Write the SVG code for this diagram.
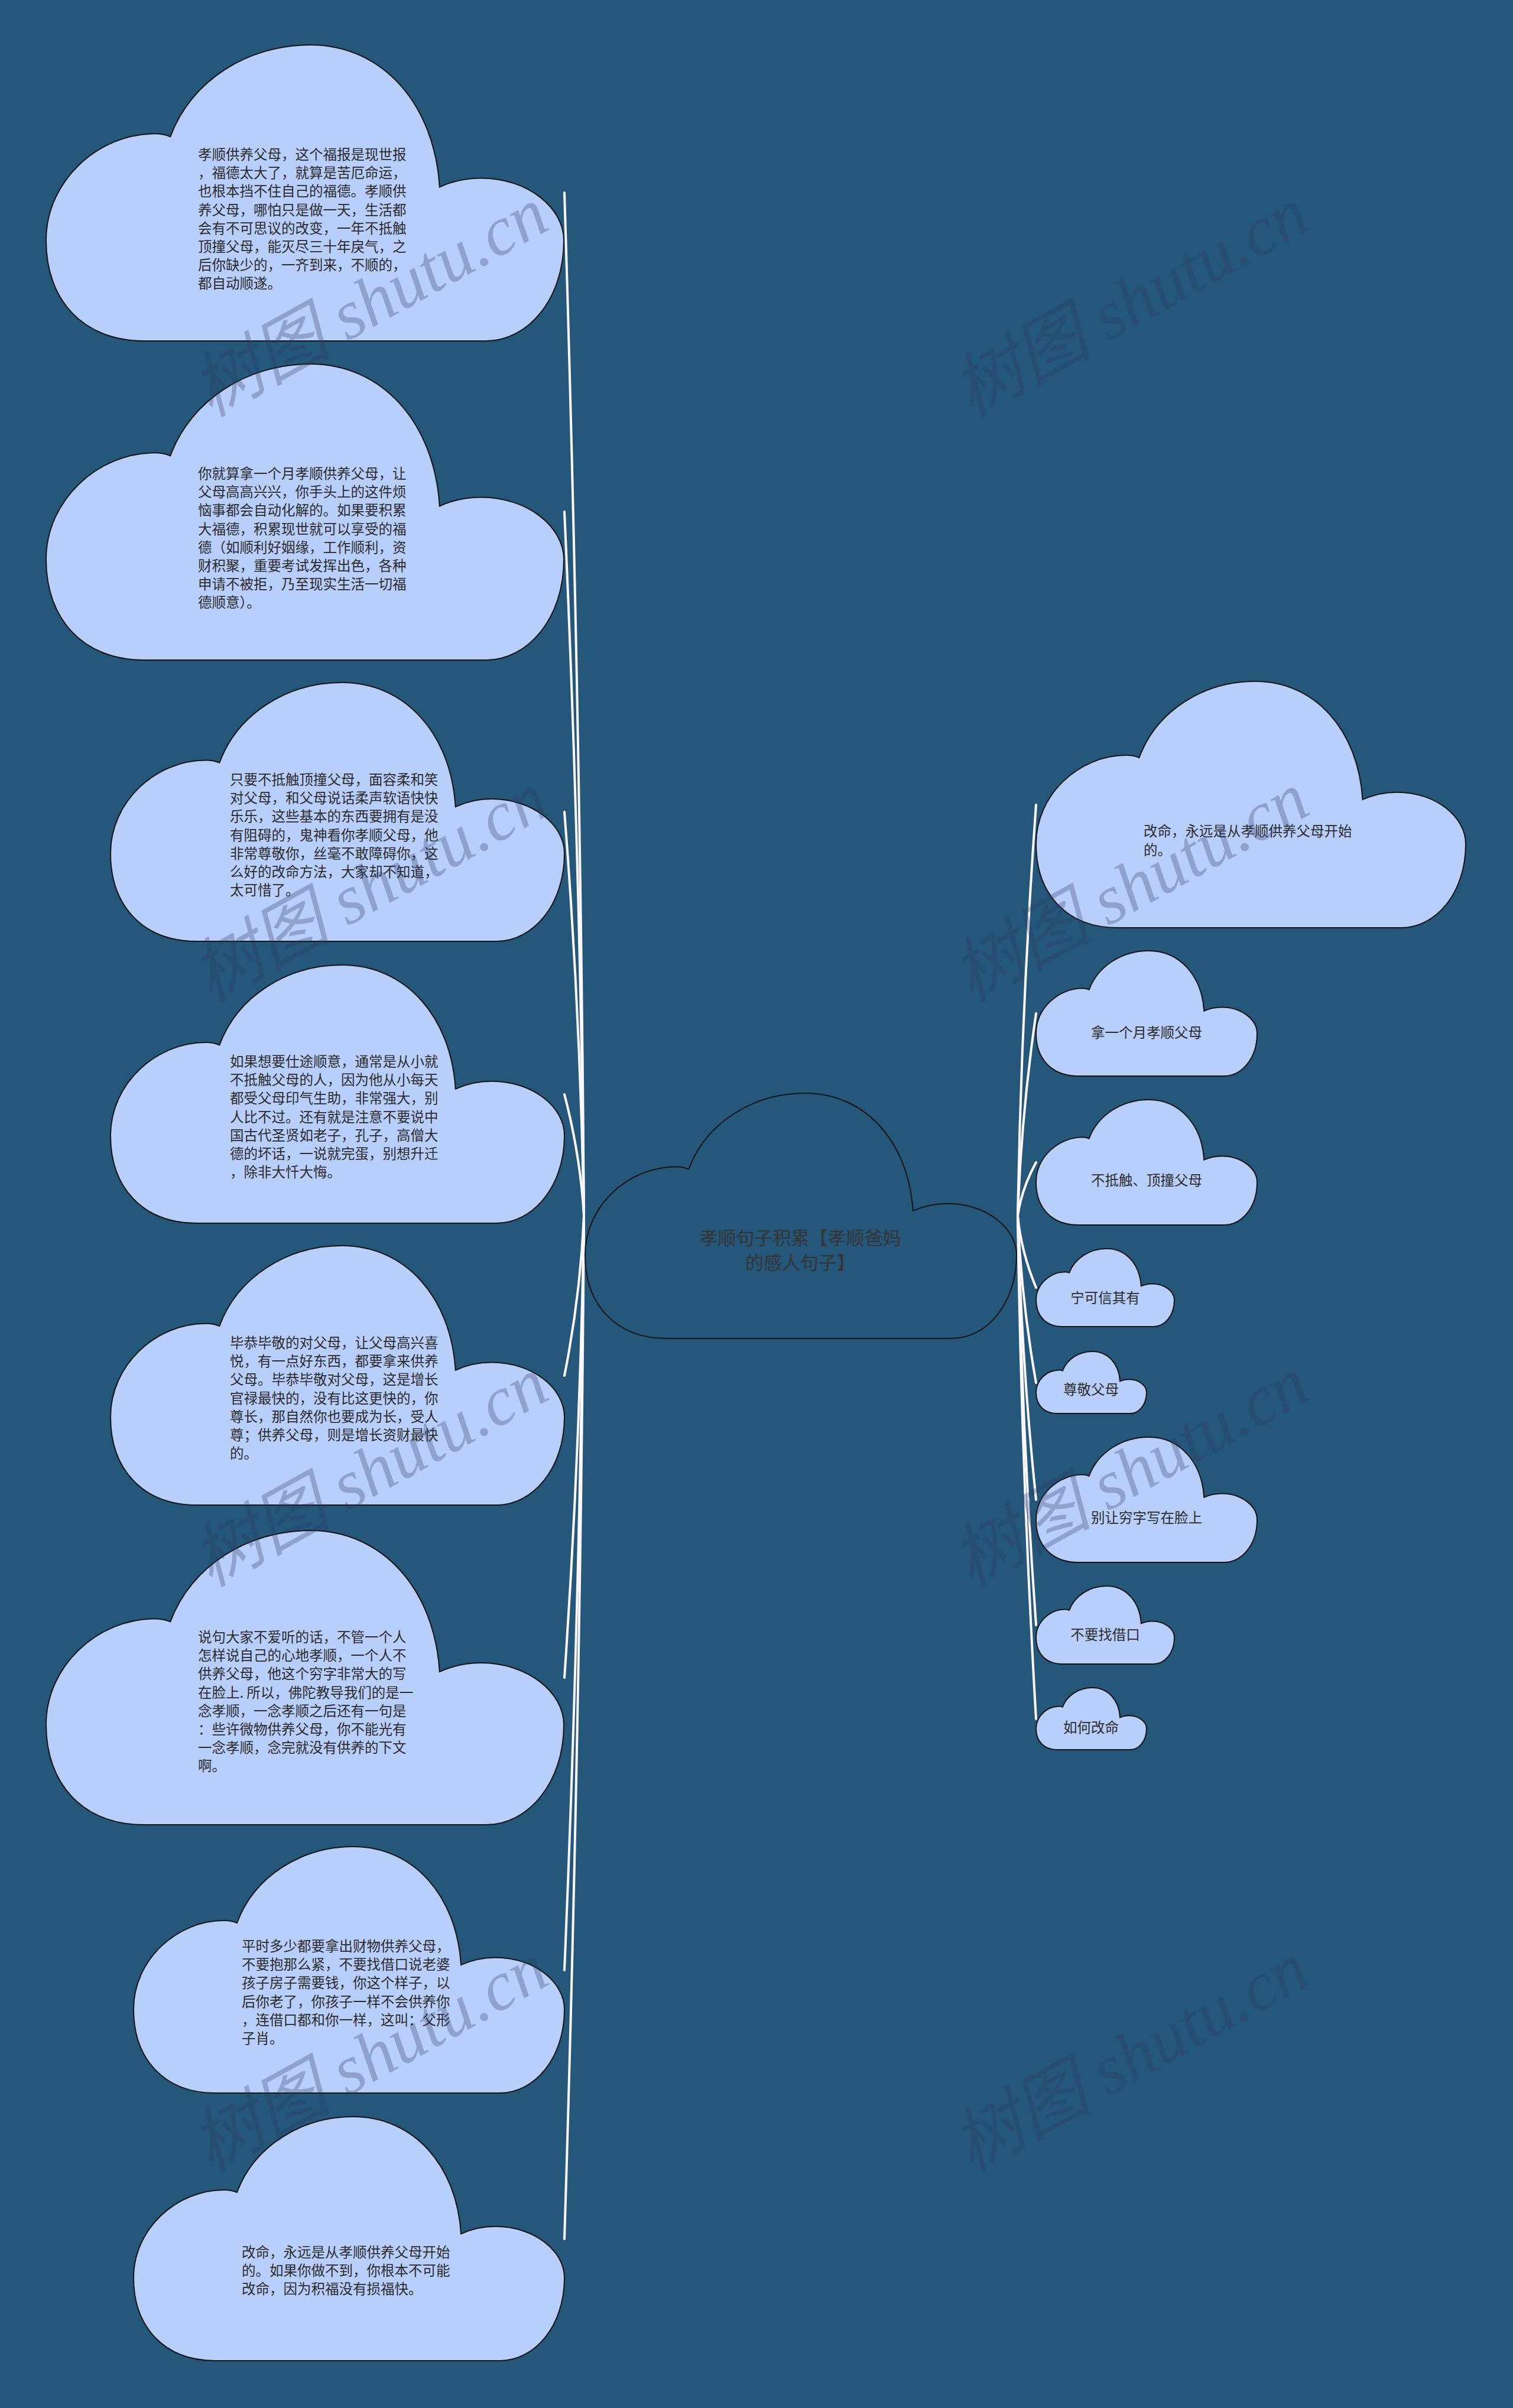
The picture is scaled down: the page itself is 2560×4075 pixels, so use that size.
<svg xmlns="http://www.w3.org/2000/svg" xmlns:xlink="http://www.w3.org/1999/xlink" width="2560" height="4075" viewBox="0 0 2560 4075">
<style>
.bg{fill:#245779}
.cl{fill:#b9cffb;stroke:#151515;stroke-width:2}
.root{fill:#245779;stroke:#151515;stroke-width:2}
.t{font-family:"Noto Sans CJK SC","Noto Sans",sans-serif;font-size:23.5px;fill:#2b2b2b}
.tc{text-anchor:middle}
.rt{font-family:"Noto Sans CJK SC","Noto Sans",sans-serif;font-size:31px;fill:#353535;text-anchor:middle}
.ln{fill:none;stroke:#fbf7ff;stroke-width:4;stroke-linecap:round}
.wm{font-family:"Liberation Serif","Noto Sans CJK SC",serif;font-style:italic;font-size:118px;fill:#2a3c62;fill-opacity:0.3;text-anchor:middle}
</style>
<defs>
<path id="cloud" vector-effect="non-scaling-stroke" d="M19,100 C7,100 0,86 0,66 C0,46 10,30 21,30 C22.3,30 23.2,30.4 24,31 C28,12 39,0 51,0 C65,0 75,20 76,48 C78.5,46 81,45 84,45 C93,45 100,55 100,66 C100,86 93,100 85,100 Z"/>
</defs>
<rect class="bg" x="0" y="0" width="2560" height="4075"/>
<g id="connectors">
<path class="ln" d="M988,2058 Q982,1192 955,326"/>
<path class="ln" d="M988,2058 Q982,1462 955,866"/>
<path class="ln" d="M988,2058 Q982,1716 955,1374"/>
<path class="ln" d="M988,2058 Q982,1955 955,1852"/>
<path class="ln" d="M988,2058 Q982,2193 955,2328"/>
<path class="ln" d="M988,2058 Q982,2449 955,2839"/>
<path class="ln" d="M988,2058 Q982,2696 955,3334"/>
<path class="ln" d="M988,2058 Q982,2923 955,3789"/>
<path class="ln" d="M1722,2058 Q1728,1710 1753,1362"/>
<path class="ln" d="M1722,2058 Q1728,1887 1753,1715"/>
<path class="ln" d="M1722,2058 Q1728,2013 1753,1967"/>
<path class="ln" d="M1722,2058 Q1728,2119 1753,2179"/>
<path class="ln" d="M1722,2058 Q1728,2199 1753,2340"/>
<path class="ln" d="M1722,2058 Q1728,2298 1753,2538"/>
<path class="ln" d="M1722,2058 Q1728,2404 1753,2750"/>
<path class="ln" d="M1722,2058 Q1728,2483 1753,2909"/>
</g>
<g id="root">
<use xlink:href="#cloud" href="#cloud" class="root" transform="translate(990,1850) scale(7.30,4.15)"/>
<text class="rt"><tspan x="1354" y="2106">孝顺句子积累【孝顺爸妈</tspan><tspan x="1354" y="2148">的感人句子】</tspan></text>
</g>
<g id="left-1">
<use xlink:href="#cloud" href="#cloud" class="cl" transform="translate(78,76) scale(8.76,5.01)"/>
<text class="t"><tspan x="335" y="270">孝顺供养父母，这个福报是现世报</tspan><tspan x="335" y="301.2">，福德太大了，就算是苦厄命运，</tspan><tspan x="335" y="332.4">也根本挡不住自己的福德。孝顺供</tspan><tspan x="335" y="363.6">养父母，哪怕只是做一天，生活都</tspan><tspan x="335" y="394.8">会有不可思议的改变，一年不抵触</tspan><tspan x="335" y="426">顶撞父母，能灭尽三十年戾气，之</tspan><tspan x="335" y="457.2">后你缺少的，一齐到来，不顺的，</tspan><tspan x="335" y="488.4">都自动顺遂。</tspan></text>
</g>
<g id="left-2">
<use xlink:href="#cloud" href="#cloud" class="cl" transform="translate(78,616) scale(8.76,5.01)"/>
<text class="t"><tspan x="335" y="810">你就算拿一个月孝顺供养父母，让</tspan><tspan x="335" y="841.2">父母高高兴兴，你手头上的这件烦</tspan><tspan x="335" y="872.4">恼事都会自动化解的。如果要积累</tspan><tspan x="335" y="903.6">大福德，积累现世就可以享受的福</tspan><tspan x="335" y="934.8">德（如顺利好姻缘，工作顺利，资</tspan><tspan x="335" y="966">财积聚，重要考试发挥出色，各种</tspan><tspan x="335" y="997.2">申请不被拒，乃至现实生活一切福</tspan><tspan x="335" y="1028.4">德顺意）。</tspan></text>
</g>
<g id="left-3">
<use xlink:href="#cloud" href="#cloud" class="cl" transform="translate(187,1155) scale(7.68,4.38)"/>
<text class="t"><tspan x="389" y="1328">只要不抵触顶撞父母，面容柔和笑</tspan><tspan x="389" y="1359.2">对父母，和父母说话柔声软语快快</tspan><tspan x="389" y="1390.4">乐乐，这些基本的东西要拥有是没</tspan><tspan x="389" y="1421.6">有阻碍的，鬼神看你孝顺父母，他</tspan><tspan x="389" y="1452.8">非常尊敬你，丝毫不敢障碍你，这</tspan><tspan x="389" y="1484">么好的改命方法，大家却不知道，</tspan><tspan x="389" y="1515.2">太可惜了。</tspan></text>
</g>
<g id="left-4">
<use xlink:href="#cloud" href="#cloud" class="cl" transform="translate(187,1633) scale(7.68,4.37)"/>
<text class="t"><tspan x="389" y="1805">如果想要仕途顺意，通常是从小就</tspan><tspan x="389" y="1836.2">不抵触父母的人，因为他从小每天</tspan><tspan x="389" y="1867.4">都受父母印气生助，非常强大，别</tspan><tspan x="389" y="1898.6">人比不过。还有就是注意不要说中</tspan><tspan x="389" y="1929.8">国古代圣贤如老子，孔子，高僧大</tspan><tspan x="389" y="1961">德的坏话，一说就完蛋，别想升迁</tspan><tspan x="389" y="1992.2">，除非大忏大悔。</tspan></text>
</g>
<g id="left-5">
<use xlink:href="#cloud" href="#cloud" class="cl" transform="translate(187,2108) scale(7.68,4.39)"/>
<text class="t"><tspan x="389" y="2281">毕恭毕敬的对父母，让父母高兴喜</tspan><tspan x="389" y="2312.2">悦，有一点好东西，都要拿来供养</tspan><tspan x="389" y="2343.4">父母。毕恭毕敬对父母，这是增长</tspan><tspan x="389" y="2374.6">官禄最快的，没有比这更快的，你</tspan><tspan x="389" y="2405.8">尊长，那自然你也要成为长，受人</tspan><tspan x="389" y="2437">尊；供养父母，则是增长资财最快</tspan><tspan x="389" y="2468.2">的。</tspan></text>
</g>
<g id="left-6">
<use xlink:href="#cloud" href="#cloud" class="cl" transform="translate(78,2590) scale(8.76,4.98)"/>
<text class="t"><tspan x="335" y="2779">说句大家不爱听的话，不管一个人</tspan><tspan x="335" y="2810.2">怎样说自己的心地孝顺，一个人不</tspan><tspan x="335" y="2841.4">供养父母，他这个穷字非常大的写</tspan><tspan x="335" y="2872.6">在脸上. 所以，佛陀教导我们的是一</tspan><tspan x="335" y="2903.8">念孝顺，一念孝顺之后还有一句是</tspan><tspan x="335" y="2935">：些许微物供养父母，你不能光有</tspan><tspan x="335" y="2966.2">一念孝顺，念完就没有供养的下文</tspan><tspan x="335" y="2997.4">啊。</tspan></text>
</g>
<g id="left-7">
<use xlink:href="#cloud" href="#cloud" class="cl" transform="translate(226,3125) scale(7.29,4.17)"/>
<text class="t"><tspan x="409" y="3302">平时多少都要拿出财物供养父母，</tspan><tspan x="409" y="3333.2">不要抱那么紧，不要找借口说老婆</tspan><tspan x="409" y="3364.4">孩子房子需要钱，你这个样子，以</tspan><tspan x="409" y="3395.6">后你老了，你孩子一样不会供养你</tspan><tspan x="409" y="3426.8">，连借口都和你一样，这叫：父形</tspan><tspan x="409" y="3458">子肖。</tspan></text>
</g>
<g id="left-8">
<use xlink:href="#cloud" href="#cloud" class="cl" transform="translate(226,3582) scale(7.29,4.13)"/>
<text class="t"><tspan x="409" y="3820">改命，永远是从孝顺供养父母开始</tspan><tspan x="409" y="3851.2">的。如果你做不到，你根本不可能</tspan><tspan x="409" y="3882.4">改命，因为积福没有损福快。</tspan></text>
</g>
<g id="right-1">
<use xlink:href="#cloud" href="#cloud" class="cl" transform="translate(1753,1153) scale(7.27,4.17)"/>
<text class="t"><tspan x="1935" y="1415">改命，永远是从孝顺供养父母开始</tspan><tspan x="1935" y="1446.5">的。</tspan></text>
</g>
<g id="right-2">
<use xlink:href="#cloud" href="#cloud" class="cl" transform="translate(1753,1609) scale(3.74,2.12)"/>
<text class="t tc" x="1940" y="1756">拿一个月孝顺父母</text>
</g>
<g id="right-3">
<use xlink:href="#cloud" href="#cloud" class="cl" transform="translate(1753,1861) scale(3.74,2.12)"/>
<text class="t tc" x="1940" y="2006">不抵触、顶撞父母</text>
</g>
<g id="right-4">
<use xlink:href="#cloud" href="#cloud" class="cl" transform="translate(1753,2113) scale(2.34,1.32)"/>
<text class="t tc" x="1870" y="2205">宁可信其有</text>
</g>
<g id="right-5">
<use xlink:href="#cloud" href="#cloud" class="cl" transform="translate(1753,2287) scale(1.87,1.05)"/>
<text class="t tc" x="1846" y="2360">尊敬父母</text>
</g>
<g id="right-6">
<use xlink:href="#cloud" href="#cloud" class="cl" transform="translate(1753,2432) scale(3.74,2.12)"/>
<text class="t tc" x="1940" y="2577">别让穷字写在脸上</text>
</g>
<g id="right-7">
<use xlink:href="#cloud" href="#cloud" class="cl" transform="translate(1753,2684) scale(2.34,1.32)"/>
<text class="t tc" x="1870" y="2775">不要找借口</text>
</g>
<g id="right-8">
<use xlink:href="#cloud" href="#cloud" class="cl" transform="translate(1753,2856) scale(1.87,1.05)"/>
<text class="t tc" x="1846" y="2932">如何改命</text>
</g>
<g id="watermark">
<text class="wm" transform="translate(645,546) rotate(-29)">树图 shutu.cn</text>
<text class="wm" transform="translate(645,1536) rotate(-29)">树图 shutu.cn</text>
<text class="wm" transform="translate(645,2526) rotate(-29)">树图 shutu.cn</text>
<text class="wm" transform="translate(645,3516) rotate(-29)">树图 shutu.cn</text>
<text class="wm" transform="translate(1932,546) rotate(-29)">树图 shutu.cn</text>
<text class="wm" transform="translate(1932,1536) rotate(-29)">树图 shutu.cn</text>
<text class="wm" transform="translate(1932,2526) rotate(-29)">树图 shutu.cn</text>
<text class="wm" transform="translate(1932,3516) rotate(-29)">树图 shutu.cn</text>
</g>
</svg>
